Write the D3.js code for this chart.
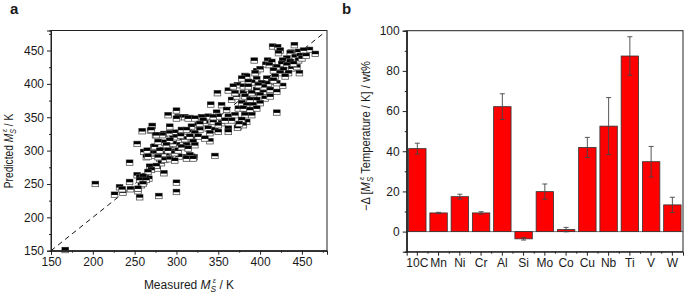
<!DOCTYPE html>
<html>
<head>
<meta charset="utf-8">
<script src="https://cdn.jsdelivr.net/npm/d3@7"></script>
<style>
  body { margin: 0; background: #fff; }
  text { font-family: "Liberation Sans", Arial, sans-serif; fill: #1a1a1a; }
</style>
</head>
<body>
<script>
// panel a: measured vs predicted Ms (K)
const msPoints = [
  [167,151],[203,250],[226,234],[232,245],[236,237],[244,282],[244,253],[245,242],[253,310],[254,239],
  [256,230],[253,263],[256,260],[258,248],[259,329],[261,298],[261,253],[264,290],[263,262],[265,300],
  [269,330],[271,337],[268,276],[267,258],[271,292],[273,305],[273,296],[275,323],[279,232],[285,325],
  [283,323],[285,266],[277,273],[290,353],[292,336],[300,360],[300,252],[300,238],[302,350],[316,349],
  [321,290],[312,290],[340,314],[346,292],[349,386],[341,369],[362,390],[373,398],[382,412],[393,435],
  [396,419],[420,357],[415,456],[421,455],[424,450],[427,397],[441,458],[447,416],[459,451],[466,445],
  [437,447],[409,435],[407,429],
  [300,348],[310,350],[270,331],[276,323],[292,326],[299,327],[306,331],[314,328],[296,318],[304,316],
  [310,317],[318,318],[266,291],[274,306],[276,296],[280,288],[284,301],[288,293],[292,305],[295,298],
  [300,308],[303,291],[318,291],[282,281],[286,286],[292,287],[298,285],[276,277],[270,271],[266,268],
  [260,261],[256,256],[264,256],[260,250],[254,243],[235,242],[286,312],[278,313],
  [354,368],[366,376],[372,381],[380,386],[386,378],[390,371],[380,368],[374,363],[360,361],[348,357],
  [338,351],[330,350],[322,348],[314,348],[350,351],[362,351],[370,353],[382,356],[390,358],[344,343],
  [354,341],[334,341],[326,338],[318,336],[312,331],[328,331],[338,333],[346,331],[362,333],[374,336],
  [384,343],[362,328],[340,326],[350,328],[322,326],[316,321],[326,321],[334,318],[320,313],[312,308],
  [322,308],[314,303],[316,293],[312,288],[320,288],
  [422,446],[436,446],[446,448],[452,450],[442,440],[448,442],[432,438],[427,435],[436,433],[446,435],
  [414,433],[411,428],[426,430],[432,428],[420,425],[438,423],[444,425],[428,421],[416,420],[424,416],
  [434,416],[418,411],[430,411],[400,422],[394,416],[396,407],[408,408],[414,403],[420,401],[384,411],
  [378,408],[390,402],[402,401],[409,396],[380,396],[386,393],[396,391],[404,388],[412,391],[420,388],
  [392,383],[400,383],[382,381],[388,376],[396,376],[406,378],[412,381],[378,371],[384,368],[392,368],
  [400,371],[380,363],[388,361],[396,363],[382,353],[390,353],[378,346],[380,338],
  [368,396],[386,403],[386,396],[390,386],[370,386],
  [373,334],[375,340],[366,345],[358,345],[350,338],[344,350],[332,345],[328,340],
  [296,310],[300,320],[305,322],[292,315],[288,308],[284,295],[280,300],[278,290],[290,300],[298,296],
  [302,300],[306,305],[410,400],[416,405],[404,395],[398,398],[450,438],[455,442],[440,430]
];

// panel b: effect per wt% of each element
const elements = ['10C','Mn','Ni','Cr','Al','Si','Mo','Co','Cu','Nb','Ti','V','W'];
const effect   = [41.3, 9.3, 17.4, 9.3, 62.2, -3.6, 19.9, 1.0, 41.9, 52.5, 87.4, 34.8, 13.3];
const effectErr= [2.7, 0.3, 1.2, 0.6, 6.4, 0.6, 3.8, 1.1, 5.0, 14.2, 9.6, 7.6, 3.8];

const xTicksA = [150,200,250,300,350,400,450];
const yTicksA = [150,200,250,300,350,400,450];
const yTicksB = [0,20,40,60,80,100];

const svg = d3.select('body').append('svg')
  .attr('width', 685).attr('height', 296);

// writes M_S^eps with italic sub/superscript into a text element
const msLabel = (t, before, after) => {
  t.append('tspan').text(before);
  t.append('tspan').attr('font-style','italic').text('M');
  t.append('tspan').attr('font-style','italic').attr('font-size','0.7em')
    .attr('dy', 3).text('S');
  t.append('tspan').attr('font-style','italic').attr('font-size','0.65em')
    .attr('dx', -3.5).attr('dy', -9).text('ε');
  t.append('tspan').attr('dy', 6).text(after);
};

// ---------- panel a ----------
const ax = d3.scaleLinear().domain([150, 480]).range([51, 327]);
const ay = d3.scaleLinear().domain([150, 480]).range([250.7, 30.5]);

const gA = svg.append('g');

// dashed y = x line
gA.append('line')
  .attr('x1', ax(150)).attr('y1', ay(150))
  .attr('x2', ax(477)).attr('y2', ay(477))
  .attr('stroke', '#111').attr('stroke-width', 1)
  .attr('stroke-dasharray', '5,4');

// half filled square markers
const mk = gA.append('g').selectAll('g').data(msPoints).join('g')
  .attr('transform', d => `translate(${ax(d[0])},${ay(d[1])})`);
mk.append('rect').attr('x', -3.3).attr('y', -2.7).attr('width', 6.6).attr('height', 5.4)
  .attr('fill', '#fff').attr('stroke', '#555').attr('stroke-width', 0.8);
mk.append('rect').attr('x', -3.3).attr('y', -2.7).attr('width', 6.6).attr('height', 3)
  .attr('fill', '#000');

// frame
gA.append('rect').attr('x', ax(150)).attr('y', ay(480))
  .attr('width', ax(480) - ax(150)).attr('height', ay(150) - ay(480))
  .attr('fill', 'none').attr('stroke', '#222').attr('stroke-width', 1);

const minorA = d3.range(175, 480, 50);

gA.append('g').attr('transform', `translate(0,${ay(150)})`)
  .call(d3.axisBottom(ax).tickValues(xTicksA).tickSize(4).tickPadding(3));
gA.append('g').attr('transform', `translate(0,${ay(150)})`)
  .call(d3.axisBottom(ax).tickValues(minorA).tickSize(2).tickFormat(''));
gA.append('g').attr('transform', `translate(${ax(150)},0)`)
  .call(d3.axisLeft(ay).tickValues(yTicksA).tickSize(4).tickPadding(3));
gA.append('g').attr('transform', `translate(${ax(150)},0)`)
  .call(d3.axisLeft(ay).tickValues(minorA).tickSize(2).tickFormat(''));

// titles
const tA = gA.append('text').attr('x', 189).attr('y', 289)
  .attr('text-anchor', 'middle').attr('font-size', 12);
msLabel(tA, 'Measured ', ' / K');

const tA2 = gA.append('text')
  .attr('transform', 'translate(13,151) rotate(-90) scale(0.85,1)')
  .attr('text-anchor', 'middle').attr('font-size', 12);
msLabel(tA2, 'Predicted ', ' / K');

svg.append('text').attr('x', 10).attr('y', 14)
  .attr('font-size', 15).attr('font-weight', 'bold').text('a');

// ---------- panel b ----------
const bx = d3.scaleBand().domain(elements).range([406.7, 683])
  .paddingInner(0.18).paddingOuter(0.09);
const by = d3.scaleLinear().domain([-10, 100]).range([251.7, 30.7]);

const gB = svg.append('g');

// zero line
gB.append('line').attr('x1', bx.range()[0]).attr('x2', bx.range()[1])
  .attr('y1', by(0)).attr('y2', by(0))
  .attr('stroke', '#777').attr('stroke-width', 1);

gB.selectAll('rect.bar').data(elements).join('rect').attr('class', 'bar')
  .attr('x', d => bx(d))
  .attr('width', bx.bandwidth())
  .attr('y', (d, i) => by(Math.max(0, effect[i])))
  .attr('height', (d, i) => Math.abs(by(effect[i]) - by(0)))
  .attr('fill', '#ff0000').attr('stroke', '#333').attr('stroke-width', 0.8);

// error bars
const eb = gB.append('g').selectAll('g').data(elements).join('g')
  .attr('stroke', '#444').attr('stroke-width', 0.9);
eb.append('line')
  .attr('x1', d => bx(d) + bx.bandwidth() / 2).attr('x2', d => bx(d) + bx.bandwidth() / 2)
  .attr('y1', (d, i) => by(effect[i] - effectErr[i]))
  .attr('y2', (d, i) => by(effect[i] + effectErr[i]));
[-1, 1].forEach(s => {
  eb.append('line')
    .attr('x1', d => bx(d) + bx.bandwidth() / 2 - 2.5)
    .attr('x2', d => bx(d) + bx.bandwidth() / 2 + 2.5)
    .attr('y1', (d, i) => by(effect[i] + s * effectErr[i]))
    .attr('y2', (d, i) => by(effect[i] + s * effectErr[i]));
});

// frame
gB.append('rect').attr('x', 406.7).attr('y', by(100))
  .attr('width', 683 - 406.7).attr('height', by(-10) - by(100))
  .attr('fill', 'none').attr('stroke', '#222').attr('stroke-width', 1);

gB.append('g').attr('transform', `translate(0,${by(-10)})`)
  .call(d3.axisBottom(bx).tickSize(4).tickPadding(3));
// minor ticks between the bars
const edgeTicks = elements.slice(1).map(e => bx(e) - bx.step() * bx.paddingInner() / 2);
gB.append('g').selectAll('line').data(edgeTicks).join('line')
  .attr('x1', d => d).attr('x2', d => d)
  .attr('y1', by(-10)).attr('y2', by(-10) + 2).attr('stroke', '#222');

gB.append('g').attr('transform', 'translate(406.7,0)')
  .call(d3.axisLeft(by).tickValues(yTicksB).tickSize(4).tickPadding(3));
gB.append('g').attr('transform', 'translate(406.7,0)')
  .call(d3.axisLeft(by).tickValues(d3.range(-10, 100, 20)).tickSize(2).tickFormat(''));

const tB = gB.append('text')
  .attr('transform', 'translate(370,136) rotate(-90) scale(0.93,1)')
  .attr('text-anchor', 'middle').attr('font-size', 12);
msLabel(tB, '−Δ [', ' Temperature / K] / wt%');

svg.append('text').attr('x', 342).attr('y', 14)
  .attr('font-size', 15).attr('font-weight', 'bold').text('b');

// axis cosmetics
svg.selectAll('.domain').attr('stroke', '#222');
svg.selectAll('.tick line').attr('stroke', '#222');
svg.selectAll('.tick text').attr('font-size', 12)
  .attr('font-family', '"Liberation Sans", Arial, sans-serif').attr('fill', '#1a1a1a');
</script>
</body>
</html>
